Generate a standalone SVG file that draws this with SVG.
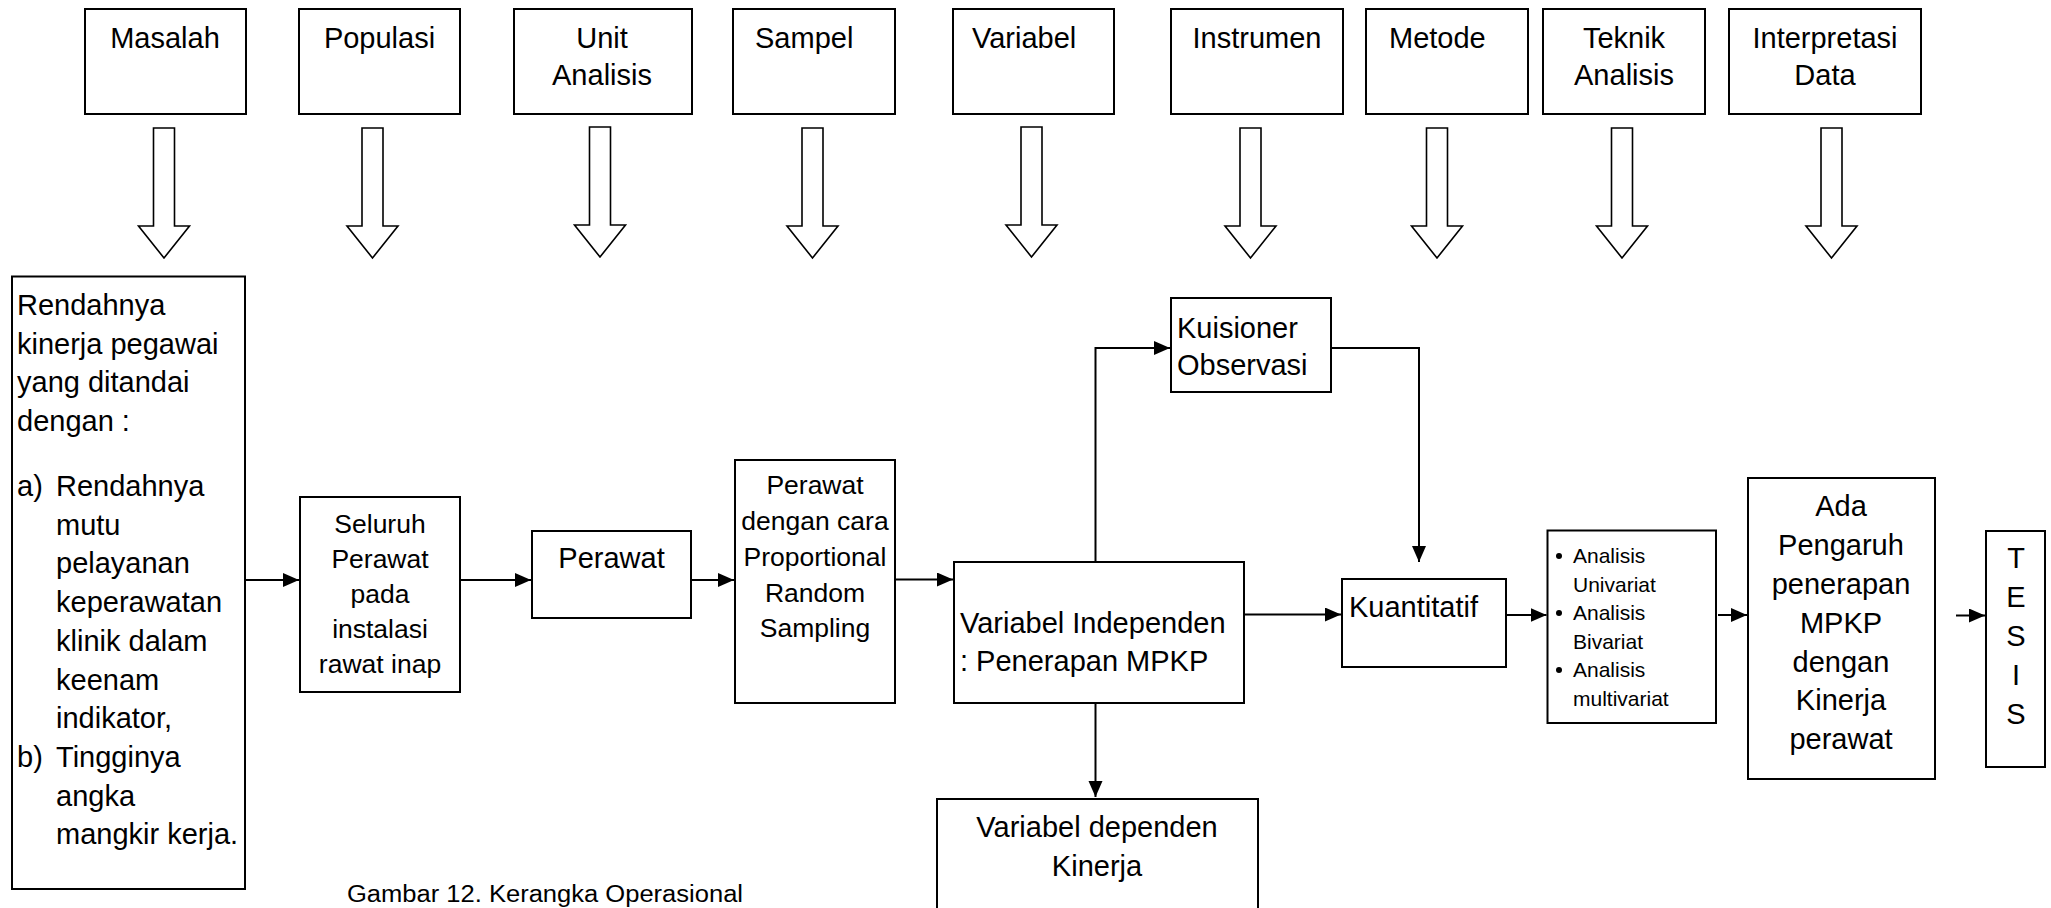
<svg xmlns="http://www.w3.org/2000/svg" width="2051" height="908" viewBox="0 0 2051 908">
<style>
.box{fill:#fff;stroke:#000;stroke-width:2}
.t{font-family:"Liberation Sans",Arial,sans-serif;font-size:29px;fill:#000}
.m{text-anchor:middle}
.s26{font-size:26.5px}
.s21{font-size:21px}
.big{fill:#fff;stroke:#000;stroke-width:1.6}
.con{fill:none;stroke:#000;stroke-width:2}
.cap{font-family:"Liberation Sans",Arial,sans-serif;font-size:23px;fill:#000}
</style>
<defs>
<marker id="ah" markerUnits="userSpaceOnUse" markerWidth="17" markerHeight="15" refX="16" refY="7" orient="auto">
<path d="M0,0 L16,7 L0,14 z" fill="#000"/>
</marker>
<path id="bigarrow" d="M-10.5,0 H10.5 V98 H25.5 L0,130 L-25.5,98 H-10.5 Z" class="big"/>
</defs>
<rect width="2051" height="908" fill="#fff"/>

<g id="top-masalah"><rect class="box" x="85" y="9" width="161" height="105"/><text class="t m" x="165" y="48">Masalah</text></g>
<g id="top-populasi"><rect class="box" x="299" y="9" width="161" height="105"/><text class="t m" x="379.5" y="48">Populasi</text></g>
<g id="top-unit"><rect class="box" x="514" y="9" width="178" height="105"/><text class="t m" x="602" y="48">Unit</text><text class="t m" x="602" y="85">Analisis</text></g>
<g id="top-sampel"><rect class="box" x="733" y="9" width="162" height="105"/><text class="t" x="755" y="48">Sampel</text></g>
<g id="top-variabel"><rect class="box" x="953" y="9" width="161" height="105"/><text class="t" x="972" y="48">Variabel</text></g>
<g id="top-instrumen"><rect class="box" x="1171" y="9" width="172" height="105"/><text class="t m" x="1257" y="48">Instrumen</text></g>
<g id="top-metode"><rect class="box" x="1366" y="9" width="162" height="105"/><text class="t" x="1389" y="48">Metode</text></g>
<g id="top-teknik"><rect class="box" x="1543" y="9" width="162" height="105"/><text class="t m" x="1624" y="48">Teknik</text><text class="t m" x="1624" y="85">Analisis</text></g>
<g id="top-interpretasi"><rect class="box" x="1729" y="9" width="192" height="105"/><text class="t m" x="1825" y="48">Interpretasi</text><text class="t m" x="1825" y="85">Data</text></g>

<g id="block-arrows">
<use href="#bigarrow" x="164" y="128"/>
<use href="#bigarrow" x="372.5" y="128"/>
<use href="#bigarrow" x="600" y="127"/>
<use href="#bigarrow" x="812.5" y="128"/>
<use href="#bigarrow" x="1031.5" y="127"/>
<use href="#bigarrow" x="1250.5" y="128"/>
<use href="#bigarrow" x="1437" y="128"/>
<use href="#bigarrow" x="1622" y="128"/>
<use href="#bigarrow" x="1831.5" y="128"/>
</g>

<g id="masalah-detail"><rect class="box" x="12" y="276.5" width="233" height="612.5"/>
<text class="t" x="17" y="315">Rendahnya</text>
<text class="t" x="17" y="353.7">kinerja pegawai</text>
<text class="t" x="17" y="392.4">yang ditandai</text>
<text class="t" x="17" y="431">dengan :</text>
<text class="t" x="17" y="496">a)</text>
<text class="t" x="56" y="496">Rendahnya</text>
<text class="t" x="56" y="534.7">mutu</text>
<text class="t" x="56" y="573.4">pelayanan</text>
<text class="t" x="56" y="612">keperawatan</text>
<text class="t" x="56" y="650.8">klinik dalam</text>
<text class="t" x="56" y="689.5">keenam</text>
<text class="t" x="56" y="728.2">indikator,</text>
<text class="t" x="17" y="767">b)</text>
<text class="t" x="56" y="767">Tingginya</text>
<text class="t" x="56" y="805.6">angka</text>
<text class="t" x="56" y="844.3">mangkir kerja.</text>
</g>

<g id="populasi-detail"><rect class="box" x="300" y="497" width="160" height="195"/>
<text class="t m s26" x="380" y="533">Seluruh</text>
<text class="t m s26" x="380" y="568">Perawat</text>
<text class="t m s26" x="380" y="603">pada</text>
<text class="t m s26" x="380" y="638">instalasi</text>
<text class="t m s26" x="380" y="673">rawat inap</text>
</g>

<g id="unit-detail"><rect class="box" x="532" y="531" width="159" height="87"/>
<text class="t m" x="611.5" y="568">Perawat</text></g>

<g id="sampel-detail"><rect class="box" x="735" y="460" width="160" height="243"/>
<text class="t m s26" x="815" y="494">Perawat</text>
<text class="t m s26" x="815" y="530">dengan cara</text>
<text class="t m s26" x="815" y="566">Proportional</text>
<text class="t m s26" x="815" y="602">Random</text>
<text class="t m s26" x="815" y="637">Sampling</text>
</g>

<g id="variabel-independen"><rect class="box" x="954" y="562" width="290" height="141"/>
<text class="t" x="960" y="633">Variabel Independen</text>
<text class="t" x="960" y="671">: Penerapan MPKP</text></g>

<g id="instrumen-detail"><rect class="box" x="1171" y="298" width="160" height="94"/>
<text class="t" x="1177" y="338">Kuisioner</text>
<text class="t" x="1177" y="374.5">Observasi</text></g>

<g id="metode-detail"><rect class="box" x="1342" y="579" width="164" height="88"/>
<text class="t" x="1349" y="617">Kuantitatif</text></g>

<g id="teknik-detail"><rect class="box" x="1547.5" y="530.5" width="168.5" height="192.5"/>
<circle cx="1559" cy="556" r="3"/><circle cx="1559" cy="613" r="3"/><circle cx="1559" cy="670" r="3"/>
<text class="t s21" x="1573" y="563">Analisis</text>
<text class="t s21" x="1573" y="591.5">Univariat</text>
<text class="t s21" x="1573" y="620">Analisis</text>
<text class="t s21" x="1573" y="648.5">Bivariat</text>
<text class="t s21" x="1573" y="677">Analisis</text>
<text class="t s21" x="1573" y="705.5">multivariat</text>
</g>

<g id="interpretasi-detail"><rect class="box" x="1748" y="478" width="187" height="301"/>
<text class="t m" x="1841" y="516">Ada</text>
<text class="t m" x="1841" y="555">Pengaruh</text>
<text class="t m" x="1841" y="594">penerapan</text>
<text class="t m" x="1841" y="632.7">MPKP</text>
<text class="t m" x="1841" y="671.5">dengan</text>
<text class="t m" x="1841" y="710">Kinerja</text>
<text class="t m" x="1841" y="748.5">perawat</text>
</g>

<g id="tesis"><rect class="box" x="1986" y="531" width="59" height="236"/>
<text class="t m" x="2016" y="568">T</text>
<text class="t m" x="2016" y="607">E</text>
<text class="t m" x="2016" y="646">S</text>
<text class="t m" x="2016" y="685">I</text>
<text class="t m" x="2016" y="724">S</text>
</g>

<g id="variabel-dependen"><rect class="box" x="937" y="799" width="321" height="130"/>
<text class="t m" x="1097" y="836.5">Variabel dependen</text>
<text class="t m" x="1097" y="875.7">Kinerja</text></g>

<g id="connectors">
<path class="con" d="M245,580 H299" marker-end="url(#ah)"/>
<path class="con" d="M460,580 H531" marker-end="url(#ah)"/>
<path class="con" d="M691,580 H734" marker-end="url(#ah)"/>
<path class="con" d="M895,579.5 H953" marker-end="url(#ah)"/>
<path class="con" d="M1095.5,562 V348 H1170" marker-end="url(#ah)"/>
<path class="con" d="M1331,348 H1419 V562" marker-end="url(#ah)"/>
<path class="con" d="M1244,614.5 H1341" marker-end="url(#ah)"/>
<path class="con" d="M1506,615 H1546.5" marker-end="url(#ah)"/>
<path class="con" d="M1718,615 H1747" marker-end="url(#ah)"/>
<path class="con" d="M1956,615.5 H1985" marker-end="url(#ah)"/>
<path class="con" d="M1095.5,703 V797" marker-end="url(#ah)"/>
</g>

<text class="cap" x="347" y="902" textLength="396" lengthAdjust="spacingAndGlyphs">Gambar 12. Kerangka Operasional</text>
</svg>
